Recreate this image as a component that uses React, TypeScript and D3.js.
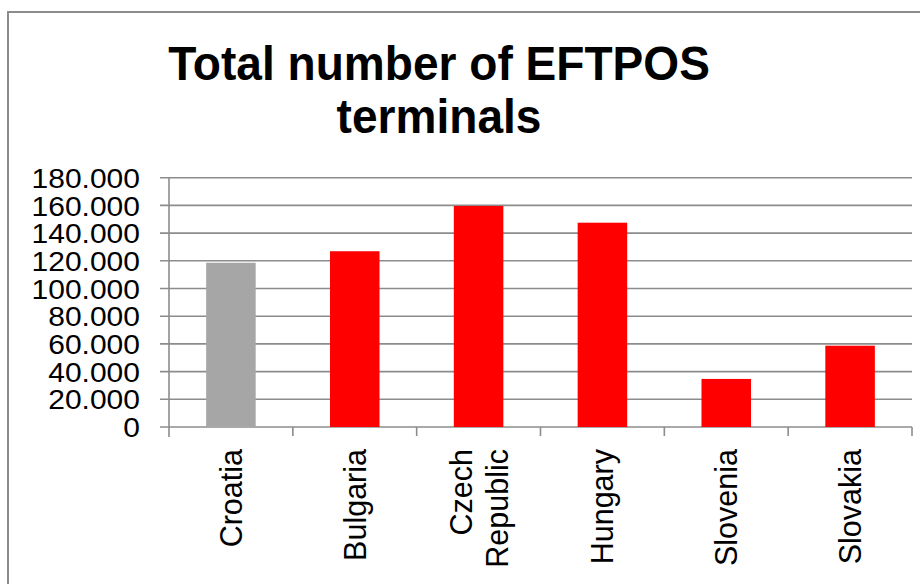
import React from "react";
import * as d3 from "d3";

const categories: string[][] = [["Croatia"], ["Bulgaria"], ["Czech", "Republic"], ["Hungary"], ["Slovenia"], ["Slovakia"]];
const values: number[] = [118600, 126900, 159600, 147500, 34700, 58700];
const colors: string[] = ["#a6a6a6", "#ff0000", "#ff0000", "#ff0000", "#ff0000", "#ff0000"];
const yTicks: number[] = [0, 20000, 40000, 60000, 80000, 100000, 120000, 140000, 160000, 180000];
const titleLines: string[] = ["Total number of EFTPOS", "terminals"];

const W = 920;
const H = 584;
const left = 169;
const right = 912;
const top = 177.7;
const bottom = 427;
const FONT = "'Liberation Sans', Arial, sans-serif";

export default function App() {
  const keys = categories.map((c) => c.join(" "));
  const x = d3.scaleBand<string>().domain(keys).range([left, right]).paddingInner(0.6).paddingOuter(0.3);
  const xc = d3.scaleBand<string>().domain(keys).range([left, right]);
  const y = d3.scaleLinear().domain([0, 180000]).range([bottom, top]);
  const fmt = (v: number) => (v === 0 ? "0" : d3.format(",")(v).replace(/,/g, "."));
  const grid = "#8c8c8c";

  return (
    <svg width={W} height={H} style={{ position: "absolute", left: 0, top: 0 }} fontFamily={FONT}>
      <rect x={0} y={0} width={W} height={H} fill="#fff" />
      <rect x={8} y={12} width={W + 10} height={H + 10} fill="none" stroke="#8c8c8c" strokeWidth={2} />
      {titleLines.map((t, i) => (
        <text key={t} transform={`translate(439,${80 + i * 53}) scale(0.95,1)`} textAnchor="middle" fontSize={48.5} fontWeight="bold" fill="#000">
          {t}
        </text>
      ))}
      {yTicks.map((t) => (
        <g key={t}>
          <line x1={160} x2={right} y1={y(t)} y2={y(t)} stroke={grid} strokeWidth={1.6} />
          <text transform={`translate(140,${y(t)}) scale(1,0.94)`} dy="0.36em" textAnchor="end" fontSize={30} fill="#000">
            {fmt(t)}
          </text>
        </g>
      ))}
      {keys.map((k, i) => (
        <rect key={k} x={x(k)} y={y(values[i])} width={x.bandwidth()} height={bottom - y(values[i])} fill={colors[i]} />
      ))}
      <line x1={left} x2={left} y1={top} y2={bottom + 10} stroke={grid} strokeWidth={1.6} />
      {keys.map((k) => (
        <line key={"t" + k} x1={(xc(k) as number) + xc.bandwidth()} x2={(xc(k) as number) + xc.bandwidth()} y1={bottom} y2={bottom + 9} stroke={grid} strokeWidth={1.6} />
      ))}
      {categories.map((lines, i) => {
        const cx = (xc(keys[i]) as number) + xc.bandwidth() / 2;
        const n = lines.length;
        return lines.map((ln, j) => {
          const off = (j - (n - 1) / 2) * 36;
          const tx = cx + off + 11;
          return (
            <text key={keys[i] + j} transform={`translate(${tx},449) rotate(-90)`} textAnchor="end" fontSize={30.5} fill="#000">
              {ln}
            </text>
          );
        });
      })}
    </svg>
  );
}
